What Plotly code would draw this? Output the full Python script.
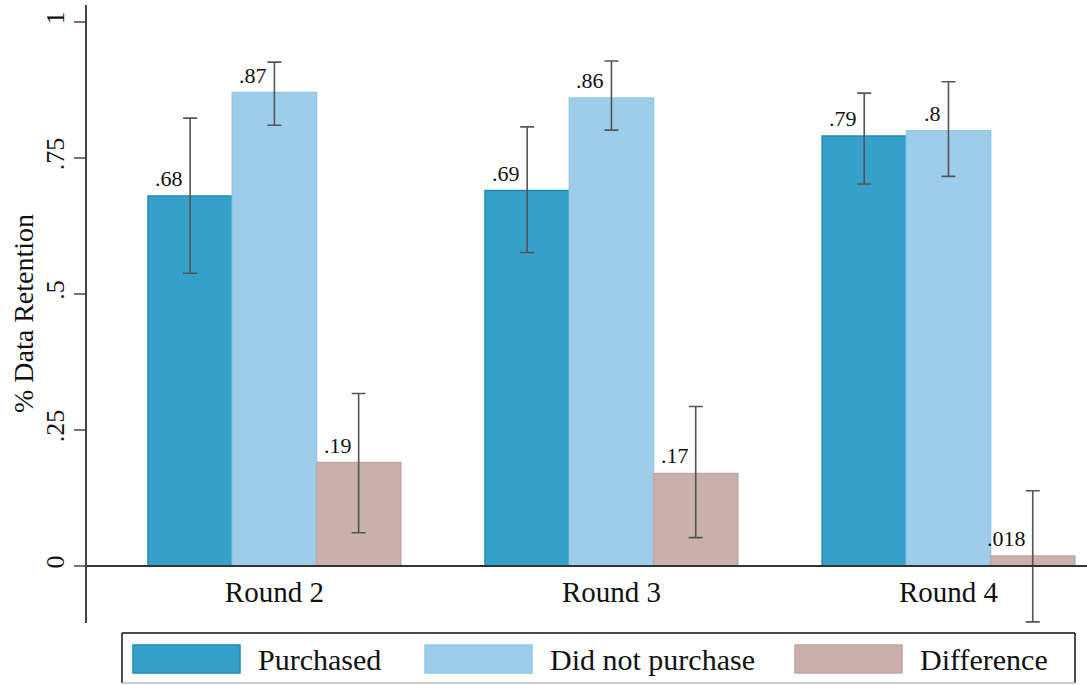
import plotly.graph_objects as go

# Data retention by round and purchase status (means with 95% CIs)
rounds = ["Round 2", "Round 3", "Round 4"]
series_names = ["Purchased", "Did not purchase", "Difference"]

purchased = [0.68, 0.69, 0.79]
purchased_lo = [0.538, 0.576, 0.702]
purchased_hi = [0.823, 0.807, 0.869]

not_purchased = [0.87, 0.86, 0.8]
not_purchased_lo = [0.810, 0.801, 0.716]
not_purchased_hi = [0.926, 0.928, 0.890]

difference = [0.19, 0.17, 0.018]
difference_lo = [0.061, 0.052, -0.103]
difference_hi = [0.317, 0.293, 0.138]

y_ticks = [0, 0.25, 0.5, 0.75, 1]
y_tick_labels = ["0", ".25", ".5", ".75", "1"]

colors = ["#35A0C9", "#9DCDEB", "#C9B0AB"]
edges = ["#2089B4", "#95C8E8", "#C1A6A1"]

FONT = "Liberation Serif, Times New Roman, serif"
INK = "#111111"

W, H = 1087, 685
M_L, M_R, M_T, M_B = 87, 0, 5, 62
PW, PH = W - M_L - M_R, H - M_T - M_B
Y_RANGE = [-0.105, 1.031]


def fmt(v):
    s = f"{v:.2g}"
    return s[1:] if s.startswith("0") else s


def px(x):
    return (x - M_L) / PW


def py(y):
    return (H - M_B - y) / PH


fig = go.Figure()
groups = [
    (purchased, purchased_lo, purchased_hi),
    (not_purchased, not_purchased_lo, not_purchased_hi),
    (difference, difference_lo, difference_hi),
]
for i, (vals, lo, hi) in enumerate(groups):
    fig.add_trace(go.Bar(
        name=series_names[i],
        x=rounds,
        y=vals,
        marker=dict(color=colors[i], line=dict(color=edges[i], width=1.5)),
        error_y=dict(
            type="data",
            symmetric=False,
            array=[h - v for h, v in zip(hi, vals)],
            arrayminus=[v - l for v, l in zip(vals, lo)],
            color="#555555",
            thickness=1.6,
            width=7,
        ),
        showlegend=False,
        hoverinfo="skip",
    ))

# Value labels sitting above each bar, just left of its error bar
bar_w = 0.25
annotations = []
for i, (vals, _, _) in enumerate(groups):
    for j, v in enumerate(vals):
        annotations.append(dict(
            x=j + (i - 1) * bar_w, y=v, xref="x", yref="y",
            text=fmt(v), showarrow=False,
            xanchor="right", yanchor="bottom", xshift=-5, yshift=3,
            font=dict(family=FONT, size=22, color=INK),
        ))

# Y axis title
annotations.append(dict(
    x=px(23), y=py(314), xref="paper", yref="paper",
    text="% Data Retention", showarrow=False, textangle=-90,
    xanchor="center", yanchor="middle",
    font=dict(family=FONT, size=28, color=INK),
))

# Legend box built from layout shapes
box_l, box_r, box_t, box_b = 122, 1075, 633, 683
shapes = [
    dict(type="line", xref="paper", yref="paper", x0=px(box_l), x1=px(box_r),
         y0=py(box_t), y1=py(box_t), line=dict(color=INK, width=1.5)),
    dict(type="line", xref="paper", yref="paper", x0=px(box_l), x1=px(box_l),
         y0=py(box_t), y1=py(box_b), line=dict(color=INK, width=1.5)),
    dict(type="line", xref="paper", yref="paper", x0=px(box_r), x1=px(box_r),
         y0=py(box_t), y1=py(box_b), line=dict(color=INK, width=1.5)),
    dict(type="line", xref="paper", yref="paper", x0=px(box_l), x1=px(box_r),
         y0=py(box_b), y1=py(box_b), line=dict(color="#BBBBBB", width=1.5)),
]
legend_x = [133, 425, 795]
for i, name in enumerate(series_names):
    x0 = legend_x[i]
    shapes.append(dict(
        type="rect", xref="paper", yref="paper",
        x0=px(x0), x1=px(x0 + 107), y0=py(645), y1=py(673),
        line=dict(color=edges[i], width=1.5), fillcolor=colors[i],
    ))
    annotations.append(dict(
        x=px(x0 + 123), y=py(660), xref="paper", yref="paper",
        text=name, showarrow=False, xanchor="left", yanchor="middle",
        font=dict(family=FONT, size=30, color=INK),
    ))

x_axis_pos = (0 - Y_RANGE[0]) / (Y_RANGE[1] - Y_RANGE[0])

fig.update_layout(
    width=W, height=H,
    margin=dict(l=M_L, r=M_R, t=M_T, b=M_B),
    paper_bgcolor="white", plot_bgcolor="white",
    barmode="group", bargap=0.25, bargroupgap=0,
    xaxis=dict(
        range=[-0.556, 2.411],
        anchor="free", position=x_axis_pos,
        showline=True, linecolor="#333333", linewidth=2,
        ticks="", showgrid=False, zeroline=False,
        tickfont=dict(family=FONT, size=29, color=INK),
    ),
    yaxis=dict(
        range=Y_RANGE, domain=[0, 1],
        tickvals=y_ticks, ticktext=y_tick_labels, tickangle=-90,
        showline=True, linecolor="#444444", linewidth=2,
        ticks="outside", ticklen=11, tickwidth=2, tickcolor="#777777",
        showgrid=False, zeroline=False,
        tickfont=dict(family=FONT, size=26, color=INK),
    ),
    shapes=shapes,
    annotations=annotations,
    font=dict(family=FONT),
)

fig.write_html("out.html")
